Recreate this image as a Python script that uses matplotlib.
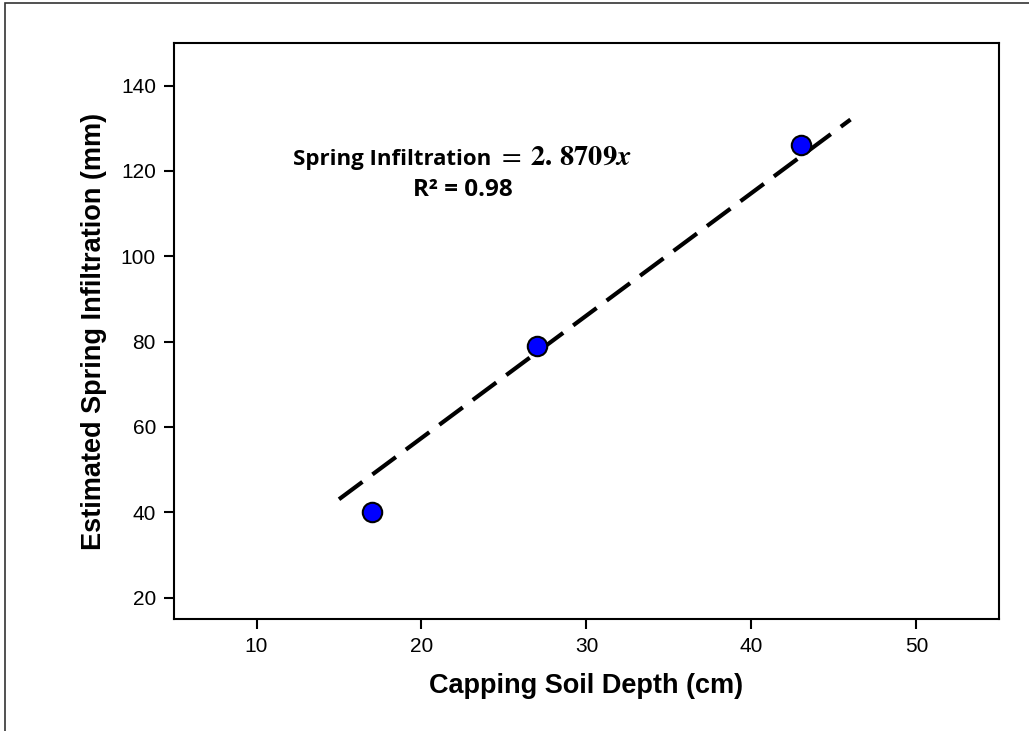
import matplotlib
matplotlib.use("Agg")
import matplotlib.pyplot as plt
from matplotlib.patches import Rectangle
import numpy as np

# measured data
depth = [17, 27, 43]
infiltration = [40, 79, 126]
slope = 2.8709
fit_x = np.array([15, 46])

plt.rcParams['font.family'] = ['Liberation Sans', 'DejaVu Sans']
plt.rcParams['mathtext.fontset'] = 'stix'

fig = plt.figure(figsize=(10.29, 7.31), dpi=100)
ax = fig.add_axes([174/1029, 1 - 619/731, (999-174)/1029, (619-43)/731])

# outer frame around the whole figure
fig.patches.append(Rectangle((5/1029, -0.1), 1.2, 1 - 3/731 + 0.1,
                             transform=fig.transFigure, fill=False,
                             edgecolor='#333333', linewidth=1.2))

ax.plot(fit_x, slope * fit_x, color='black', linestyle=(0, (7, 3)),
        linewidth=3, zorder=2)
ax.plot(depth, infiltration, 'o', color='#0000ff', markersize=14,
        markeredgecolor='black', markeredgewidth=1.5, zorder=3)

ax.set_xlim(5, 55)
ax.set_ylim(15, 150)
ax.set_xticks([10, 20, 30, 40, 50])
ax.set_yticks([20, 40, 60, 80, 100, 120, 140])
ax.tick_params(direction='out', length=7, width=1.5, labelsize=15, pad=6)
for s in ax.spines.values():
    s.set_linewidth(1.5)

ax.set_xlabel('Capping Soil Depth (cm)', fontsize=19.5, fontweight='bold',
              labelpad=12)
ax.set_ylabel('Estimated Spring Infiltration (mm)', fontsize=19.5,
              fontweight='bold', labelpad=10)

# equation: words in sans, the math part in a larger serif math font
ax.text(12.2, 121.5, 'Spring Infiltration', fontsize=16, fontweight='bold',
        ha='left', va='baseline', family=['Open Sans', 'DejaVu Sans'])
ax.text(24.55, 121.5, r'$=\;\mathbf{2.\,8709}\boldsymbol{x}$', fontsize=20.5,
        ha='left', va='baseline')
ax.text(22.5, 115.6, 'R² = 0.98', fontsize=17.5, fontweight='bold',
        ha='center', va='center', family=['Open Sans', 'DejaVu Sans'])

fig.savefig('out.png', dpi=100)
